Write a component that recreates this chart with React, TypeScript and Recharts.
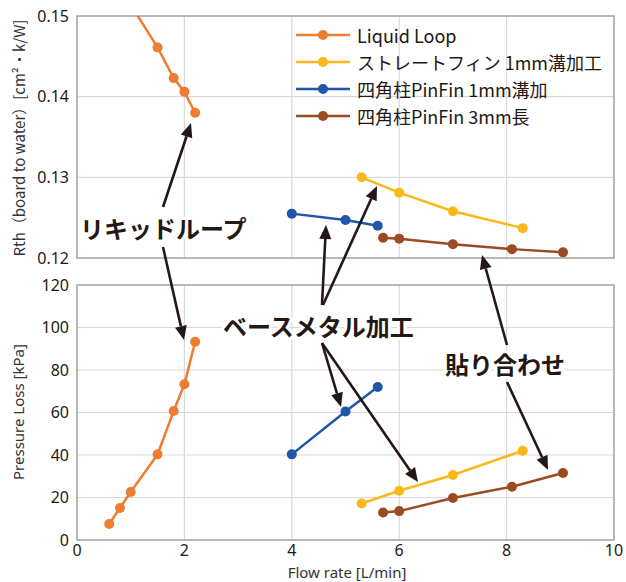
import React from 'react';
import { LineChart, Line, XAxis, YAxis, CartesianGrid, ReferenceArea } from 'recharts';

const FONT = "'Noto Sans CJK JP', 'Noto Sans', sans-serif";
const LATIN = "'Noto Sans', 'Noto Sans CJK JP', sans-serif";
const INK = '#231815';

const flowTicks = [0, 2, 4, 6, 8, 10];
const rthTicks = [0.12, 0.13, 0.14, 0.15];
const pressureTicks = [0, 20, 40, 60, 80, 100, 120];

const seriesNames = ['Liquid Loop', 'ストレートフィン 1mm溝加工', '四角柱PinFin 1mm溝加', '四角柱PinFin 3mm長'];
const seriesColors = ['#ED7D31', '#F9B919', '#1F56A8', '#9C4A22'];

const liquidFlow = [0.6, 0.8, 1.0, 1.5, 1.8, 2.0, 2.2];
const liquidRth = [0.168, 0.159, 0.1514, 0.1461, 0.1423, 0.1406, 0.138];
const liquidPressure = [7.5, 15.1, 22.6, 40.3, 60.7, 73.3, 93.3];

const straightFlow = [5.3, 6.0, 7.0, 8.3];
const straightRth = [0.13, 0.1281, 0.1258, 0.1237];
const straightPressure = [17.2, 23.2, 30.6, 42.0];

const pin1Flow = [4.0, 5.0, 5.6];
const pin1Rth = [0.1255, 0.1247, 0.124];
const pin1Pressure = [40.3, 60.5, 72.0];

const pin3Flow = [5.7, 6.0, 7.0, 8.1, 9.05];
const pin3Rth = [0.1225, 0.1224, 0.1217, 0.1211, 0.1207];
const pin3Pressure = [12.9, 13.6, 19.8, 25.1, 31.5];

const toRows = (xs: number[], ys: number[]) => xs.map((x, i) => ({ x, y: ys[i] }));

const series = [
  { rth: toRows(liquidFlow, liquidRth), pressure: toRows(liquidFlow, liquidPressure) },
  { rth: toRows(straightFlow, straightRth), pressure: toRows(straightFlow, straightPressure) },
  { rth: toRows(pin1Flow, pin1Rth), pressure: toRows(pin1Flow, pin1Pressure) },
  { rth: toRows(pin3Flow, pin3Rth), pressure: toRows(pin3Flow, pin3Pressure) },
].map((s, i) => ({ ...s, name: seriesNames[i], color: seriesColors[i] }));

// annotation arrows (tail -> tip), page pixels
const arrows = [
  [163, 207, 191, 123],
  [163, 247, 184, 340],
  [322, 305, 326, 225],
  [323, 305, 377, 186],
  [322, 343, 341, 407],
  [322, 343, 418, 482],
  [507, 345, 482, 255],
  [507, 382, 548, 470],
];

const labels = [
  { text: 'リキッドループ', x: 80, y: 227 },
  { text: 'ベースメタル加工', x: 223, y: 325 },
  { text: '貼り合わせ', x: 445, y: 363 },
];

const tickStyle = { fill: INK, fontSize: 16, fontFamily: LATIN };

const Arrow = ({ x1, y1, x2, y2 }: { x1: number; y1: number; x2: number; y2: number }) => {
  const a = Math.atan2(y2 - y1, x2 - x1);
  const len = 14;
  const half = 6;
  const bx = x2 - len * Math.cos(a);
  const by = y2 - len * Math.sin(a);
  const px = -Math.sin(a) * half;
  const py = Math.cos(a) * half;
  return (
    <g>
      <line x1={x1} y1={y1} x2={bx} y2={by} stroke={INK} strokeWidth={2.6} />
      <polygon points={`${x2},${y2} ${bx + px},${by + py} ${bx - px},${by - py}`} fill={INK} />
    </g>
  );
};

const Panel = ({ which }: { which: 'rth' | 'pressure' }) => {
  const top = which === 'rth';
  return (
    <LineChart
      width={626}
      height={top ? 270 : 312}
      margin={top ? { top: 16, right: 12, bottom: 12, left: 0 } : { top: 15, right: 12, bottom: 0, left: 0 }}
    >
      <CartesianGrid stroke="#d9d9d9" strokeWidth={1.2} />
      <XAxis
        dataKey="x"
        type="number"
        domain={[0, 10]}
        ticks={flowTicks}
        hide={top}
        height={42}
        axisLine={false}
        tickLine={false}
        tickSize={3}
        tickMargin={2}
        tick={tickStyle}
        allowDuplicatedCategory={false}
      />
      <YAxis
        type="number"
        domain={top ? [0.12, 0.15] : [0, 120]}
        ticks={top ? rthTicks : pressureTicks}
        allowDataOverflow
        width={77}
        axisLine={false}
        tickLine={false}
        tick={tickStyle}
        interval={0}
      />
      <ReferenceArea
        x1={0}
        x2={10}
        y1={top ? 0.12 : 0}
        y2={top ? 0.15 : 120}
        fill="none"
        stroke="#a6a6a6"
        strokeWidth={1.5}
        fillOpacity={0}
      />
      {series.map((s) => (
        <Line
          key={s.name}
          data={top ? s.rth : s.pressure}
          dataKey="y"
          type="linear"
          stroke={s.color}
          strokeWidth={2.5}
          dot={{ r: 5, fill: s.color, stroke: s.color, strokeWidth: 0 }}
          activeDot={false}
          isAnimationActive={false}
        />
      ))}
    </LineChart>
  );
};

const App = () => {
  return (
    <div style={{ position: 'absolute', left: 0, top: 0, width: 626, height: 582, background: '#fff', fontFamily: FONT }}>
      <div style={{ position: 'absolute', left: 0, top: 0 }}>
        <Panel which="rth" />
      </div>
      <div style={{ position: 'absolute', left: 0, top: 270 }}>
        <Panel which="pressure" />
      </div>
      <svg width={626} height={582} style={{ position: 'absolute', left: 0, top: 0, pointerEvents: 'none' }}>
        <text
          transform="translate(18,138) rotate(-90)"
          textAnchor="middle"
          dominantBaseline="central"
          fontSize={15}
          fill="#333"
          fontFamily={FONT}
        >
          Rth（board to water）[cm²・k/W]
        </text>
        <text
          transform="translate(18,412) rotate(-90)"
          textAnchor="middle"
          dominantBaseline="central"
          fontSize={15}
          fill="#333"
          fontFamily={LATIN}
        >
          Pressure Loss [kPa]
        </text>
        <text x={347} y={572} textAnchor="middle" dominantBaseline="central" fontSize={15} fill="#333" fontFamily={LATIN}>
          Flow rate [L/min]
        </text>

        {series.map((s, i) => {
          const y = 35 + i * 27;
          return (
            <g key={s.name}>
              <line x1={296} y1={y} x2={350} y2={y} stroke={s.color} strokeWidth={2.5} />
              <circle cx={323} cy={y} r={5} fill={s.color} />
              <text x={357} y={y} dominantBaseline="central" fontSize={18} fill={INK} fontFamily={FONT}>
                {s.name}
              </text>
            </g>
          );
        })}

        {labels.map((l) => (
          <text
            key={l.text}
            x={l.x}
            y={l.y}
            dominantBaseline="central"
            fontSize={24}
            fontWeight="bold"
            fill={INK}
            stroke="#fff"
            strokeWidth={6}
            paintOrder="stroke"
            strokeLinejoin="round"
            fontFamily={FONT}
          >
            {l.text}
          </text>
        ))}

        {arrows.map(([x1, y1, x2, y2], i) => (
          <Arrow key={i} x1={x1} y1={y1} x2={x2} y2={y2} />
        ))}
      </svg>
    </div>
  );
};

export default App;
